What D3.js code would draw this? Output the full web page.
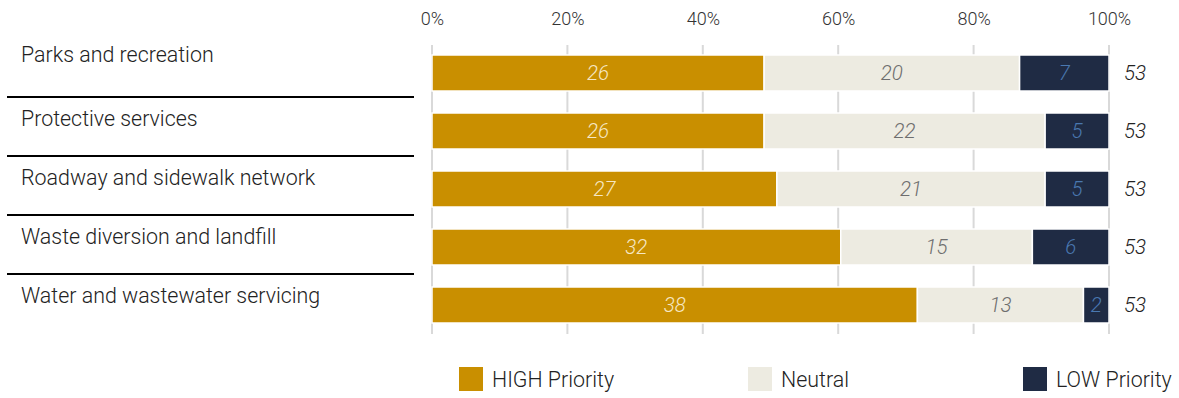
<!DOCTYPE html>
<html>
<head>
<meta charset="utf-8">
<script src="https://cdn.jsdelivr.net/npm/d3@7"></script>
<style>
  html, body { margin: 0; padding: 0; background: #fff; }
  svg { display: block; font-family: Roboto, "Noto Sans", sans-serif; }
</style>
</head>
<body>
<svg id="chart" width="1179" height="398"></svg>
<script>
// Survey responses: priority level per municipal service
const categories = [
  "Parks and recreation",
  "Protective services",
  "Roadway and sidewalk network",
  "Waste diversion and landfill",
  "Water and wastewater servicing"
];
const highPriority = [26, 26, 27, 32, 38];
const neutral      = [20, 22, 21, 15, 13];
const lowPriority  = [7, 5, 5, 6, 2];
const seriesNames  = ["HIGH Priority", "Neutral", "LOW Priority"];
const tickValues   = [0, 0.2, 0.4, 0.6, 0.8, 1.0];

const colors     = ["#C98F00", "#EDEBE1", "#1F2B44"];
const textColors = ["#F6E7C4", "#6E6E6E", "#4A78B0"];

const svg = d3.select("#chart");

const rows = categories.map((c, i) => {
  const vals = [highPriority[i], neutral[i], lowPriority[i]];
  const total = d3.sum(vals);
  let acc = 0;
  const segs = vals.map((v, k) => {
    const s = { key: k, value: v, x0: acc / total, x1: (acc + v) / total };
    acc += v;
    return s;
  });
  return { category: c, total, segs };
});

const x = d3.scaleLinear().domain([0, 1]).range([432, 1109]);
const y = d3.scaleBand()
  .domain(categories)
  .range([55 - 11, 55 - 11 + 58 * categories.length])
  .paddingInner(22 / 58)
  .paddingOuter(11 / 58);

// Top axis with percentage labels
const axis = d3.axisTop(x)
  .tickValues(tickValues)
  .tickFormat(d3.format(".0%"))
  .tickSize(0)
  .tickPadding(0);

const axisG = svg.append("g")
  .attr("transform", "translate(0,25)")
  .call(axis);
axisG.select(".domain").remove();
axisG.selectAll("text")
  .attr("font-family", "Roboto, sans-serif")
  .attr("font-weight", 300)
  .attr("font-size", 18)
  .attr("fill", "#333");

// Vertical gridlines behind the bars
svg.append("g")
  .selectAll("line")
  .data(tickValues)
  .join("line")
  .attr("x1", d => x(d))
  .attr("x2", d => x(d))
  .attr("y1", 45)
  .attr("y2", 334)
  .attr("stroke", "#D9D9D9")
  .attr("stroke-width", 2);

// Stacked bars
const rowG = svg.append("g")
  .selectAll("g")
  .data(rows)
  .join("g")
  .attr("transform", d => `translate(0,${y(d.category)})`);

rowG.selectAll("rect")
  .data(d => d.segs)
  .join("rect")
  .attr("x", d => x(d.x0))
  .attr("width", d => x(d.x1) - x(d.x0))
  .attr("y", 0)
  .attr("height", y.bandwidth())
  .attr("fill", d => colors[d.key])
  .attr("stroke", "#fff")
  .attr("stroke-width", 1.5);

rowG.selectAll("text.val")
  .data(d => d.segs)
  .join("text")
  .attr("class", "val")
  .attr("x", d => (x(d.x0) + x(d.x1)) / 2)
  .attr("y", y.bandwidth() / 2)
  .attr("dy", "0.36em")
  .attr("text-anchor", "middle")
  .attr("font-style", "italic")
  .attr("font-weight", 300)
  .attr("font-size", 20.5)
  .attr("fill", d => textColors[d.key])
  .text(d => d.value);

// Row totals
rowG.append("text")
  .attr("x", 1124)
  .attr("y", y.bandwidth() / 2)
  .attr("dy", "0.36em")
  .attr("font-style", "italic")
  .attr("font-weight", 300)
  .attr("font-size", 20.5)
  .attr("fill", "#222")
  .text(d => d.total);

// Category labels with separators
const labelG = svg.append("g");
const sepY = i => 97 + (i - 1) * 59;
labelG.selectAll("text")
  .data(categories)
  .join("text")
  .attr("x", 21)
  .attr("y", (d, i) => i === 0 ? 62 : sepY(i) + 29)
  .attr("font-weight", 300)
  .attr("font-size", 21.4)
  .attr("fill", "#222")
  .text(d => d);

labelG.selectAll("line")
  .data(categories.slice(1))
  .join("line")
  .attr("x1", 7)
  .attr("x2", 414)
  .attr("y1", (d, i) => sepY(i + 1))
  .attr("y2", (d, i) => sepY(i + 1))
  .attr("stroke", "#000")
  .attr("stroke-width", 2);

// Legend
const legendX = [459, 748, 1023];
const legend = svg.append("g")
  .selectAll("g")
  .data(seriesNames)
  .join("g")
  .attr("transform", (d, i) => `translate(${legendX[i]},367)`);
legend.append("rect")
  .attr("width", 24)
  .attr("height", 24)
  .attr("fill", (d, i) => colors[i]);
legend.append("text")
  .attr("x", 33)
  .attr("y", 12)
  .attr("dy", "0.36em")
  .attr("font-weight", 300)
  .attr("font-size", 21.4)
  .attr("fill", "#222")
  .text(d => d);
</script>
</body>
</html>
